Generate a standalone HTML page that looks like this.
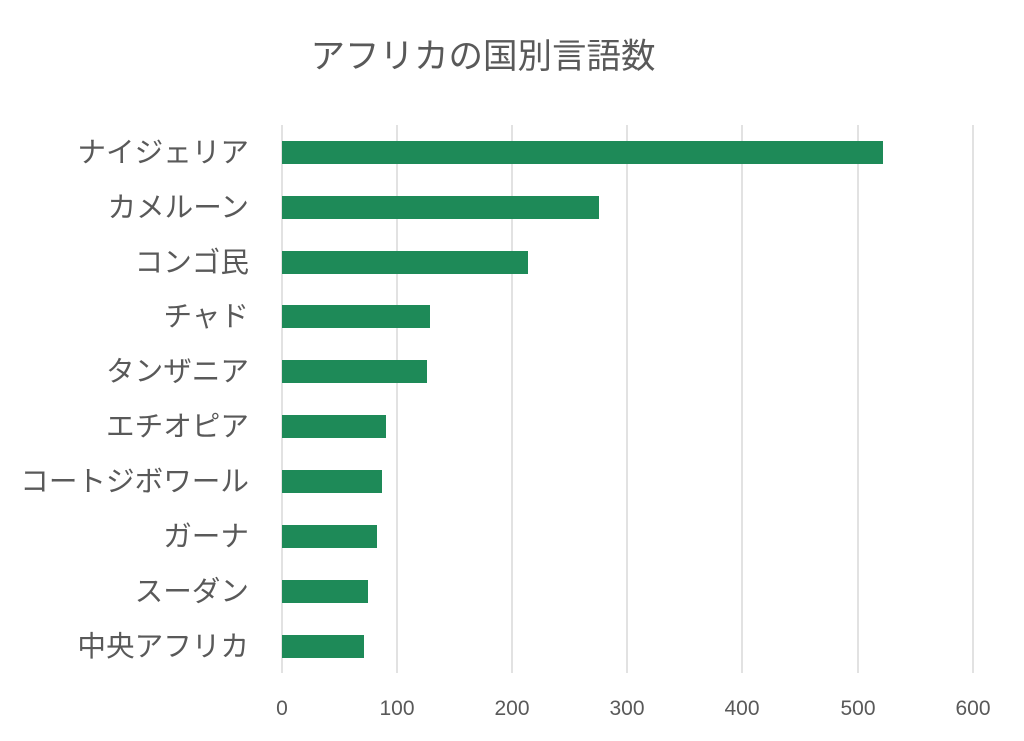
<!DOCTYPE html>
<html><head><meta charset="utf-8"><style>
html,body{margin:0;padding:0;background:#fff;}
</style></head><body>
<svg width="1024" height="741" xmlns="http://www.w3.org/2000/svg" style="display:block;font-family:'Liberation Sans','Noto Sans CJK JP',sans-serif;">
<rect width="1024" height="741" fill="#fff"/>
<text x="483" y="68" font-size="34.5" fill="#595959" text-anchor="middle">アフリカの国別言語数</text>
<g stroke="#d9d9d9" stroke-width="1.5">
<line x1="282" y1="125" x2="282" y2="673"/>
<line x1="397" y1="125" x2="397" y2="673"/>
<line x1="512" y1="125" x2="512" y2="673"/>
<line x1="627" y1="125" x2="627" y2="673"/>
<line x1="742" y1="125" x2="742" y2="673"/>
<line x1="858" y1="125" x2="858" y2="673"/>
<line x1="973" y1="125" x2="973" y2="673"/>
</g>
<g fill="#1e8a58">
<rect x="282" y="141" width="601" height="23"/>
<rect x="282" y="196" width="317" height="23"/>
<rect x="282" y="251" width="246" height="23"/>
<rect x="282" y="305" width="148" height="23"/>
<rect x="282" y="360" width="145" height="23"/>
<rect x="282" y="415" width="104" height="23"/>
<rect x="282" y="470" width="100" height="23"/>
<rect x="282" y="525" width="95" height="23"/>
<rect x="282" y="580" width="86" height="23"/>
<rect x="282" y="635" width="82" height="23"/>
</g>
<g font-size="28.6" fill="#595959" text-anchor="end">
<text x="249" y="162">ナイジェリア</text>
<text x="249" y="217">カメルーン</text>
<text x="249" y="272">コンゴ民</text>
<text x="249" y="326">チャド</text>
<text x="249" y="381">タンザニア</text>
<text x="249" y="436">エチオピア</text>
<text x="249" y="491">コートジボワール</text>
<text x="249" y="546">ガーナ</text>
<text x="249" y="601">スーダン</text>
<text x="249" y="656">中央アフリカ</text>
</g>
<g font-size="21" fill="#595959" text-anchor="middle">
<text x="282" y="715">0</text>
<text x="397" y="715">100</text>
<text x="512" y="715">200</text>
<text x="627" y="715">300</text>
<text x="742" y="715">400</text>
<text x="858" y="715">500</text>
<text x="973" y="715">600</text>
</g>
</svg>
</body></html>
